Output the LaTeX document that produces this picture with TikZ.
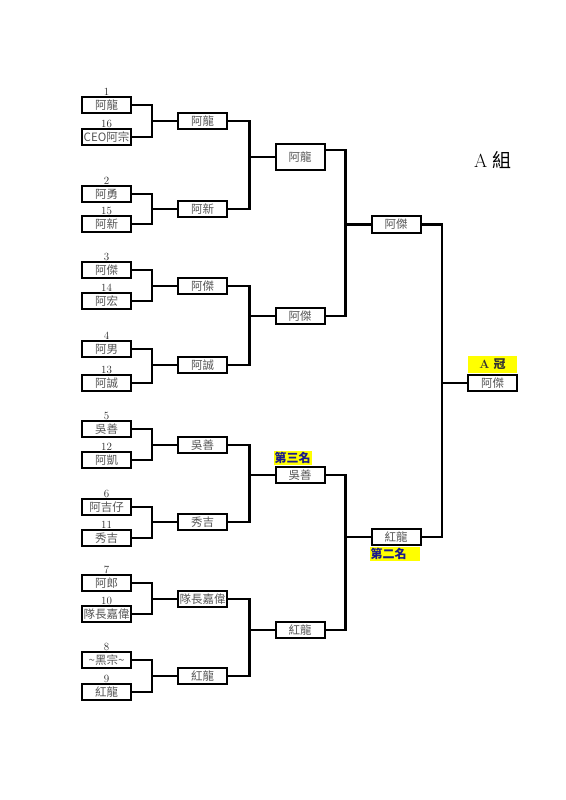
\documentclass[tikz,border=0pt]{standalone}
\usepackage{fontspec}
\newfontfamily\cjk{Noto Sans CJK TC}
\definecolor{namegray}{HTML}{555555}
\definecolor{rankblue}{HTML}{1A1A8C}
\definecolor{rankyellow}{HTML}{FFFF00}

\begin{document}
\begin{tikzpicture}[
  x=1pt, y=-1pt,
  entry/.style={draw=black, line width=2pt, minimum width=49pt, minimum height=16pt, inner sep=0pt, font=\cjk\fontsize{11.5}{12}\selectfont, text=namegray},
  seed/.style={font=\fontsize{11}{11}\selectfont, inner sep=0pt, text=black!85},
  rank/.style={fill=rankyellow, inner sep=1pt, text height=10pt, text depth=1.5pt, font=\cjk\bfseries\fontsize{12}{12}\selectfont, text=rankblue},
  link/.style={line width=2.8pt, line join=miter}
]
\useasboundingbox (0,0) rectangle (565,800);

% first round
\node[entry, label={[seed, name=n1]above:1}] (e1) at (106.5,105) {阿龍};
\node[entry, label={[seed, name=n16]above:16}] (e16) at (106.5,137) {CEO阿宗};
\node[entry, label={[seed, name=n2]above:2}] (e2) at (106.5,194) {阿勇};
\node[entry, label={[seed, name=n15]above:15}] (e15) at (106.5,224) {阿新};
\node[entry, label={[seed, name=n3]above:3}] (e3) at (106.5,270) {阿傑};
\node[entry, label={[seed, name=n14]above:14}] (e14) at (106.5,301) {阿宏};
\node[entry, label={[seed, name=n4]above:4}] (e4) at (106.5,349) {阿男};
\node[entry, label={[seed, name=n13]above:13}] (e13) at (106.5,383) {阿誠};
\node[entry, label={[seed, name=n5]above:5}] (e5) at (106.5,429) {吳善};
\node[entry, label={[seed, name=n12]above:12}] (e12) at (106.5,460) {阿凱};
\node[entry, label={[seed, name=n6]above:6}] (e6) at (106.5,507) {阿吉仔};
\node[entry, label={[seed, name=n11]above:11}] (e11) at (106.5,538) {秀吉};
\node[entry, label={[seed, name=n7]above:7}] (e7) at (106.5,583) {阿郎};
\node[entry, label={[seed, name=n10]above:10}] (e10) at (106.5,614) {隊長嘉偉};
\node[entry, label={[seed, name=n8]above:8}] (e8) at (106.5,660) {\textasciitilde 黑宗\textasciitilde};
\node[entry, label={[seed, name=n9]above:9}] (e9) at (106.5,692) {紅龍};

% second round
\node[entry] (r2a) at (202.5,121) {阿龍};
\node[entry] (r2b) at (202.5,209) {阿新};
\node[entry] (r2c) at (202.5,286) {阿傑};
\node[entry] (r2d) at (202.5,365) {阿誠};
\node[entry] (r2e) at (202.5,445) {吳善};
\node[entry] (r2f) at (202.5,522) {秀吉};
\node[entry] (r2g) at (202.5,599) {隊長嘉偉};
\node[entry] (r2h) at (202.5,676) {紅龍};

% semifinal, final, champion
\node[entry, minimum height=26pt] (q1) at (300,157) {阿龍};
\node[entry] (q2) at (300,316) {阿傑};
\node[entry] (q3) at (300,475) {吳善};
\node[entry] (q4) at (300,630) {紅龍};
\node[entry, minimum height=17pt] (f1) at (396,224.5) {阿傑};
\node[entry] (f2) at (396,537) {紅龍};
\node[entry] (champ) at (492.5,383) {阿傑};
\coordinate (q1out) at ([yshift=7pt]q1.east);

\foreach \a/\b/\w in {e1.east/e16.east/r2a, e2.east/e15.east/r2b, e3.east/e14.east/r2c, e4.east/e13.east/r2d,
                      e5.east/e12.east/r2e, e6.east/e11.east/r2f, e7.east/e10.east/r2g, e8.east/e9.east/r2h,
                      r2a.east/r2b.east/q1, r2c.east/r2d.east/q2, r2e.east/r2f.east/q3, r2g.east/r2h.east/q4,
                      q1out/q2.east/f1, q3.east/q4.east/f2, f1.east/f2.east/champ}
  \draw[link] (\w.west) -- ++(-25,0) coordinate (j) |- (\a) (j) |- (\b);

% places
\node[rank, anchor=south west] (third) at ([xshift=-1pt,yshift=1pt]q3.north west) {第三名};
\node[rank, anchor=north west, text width=48pt, align=left] (second) at ([xshift=-1pt,yshift=-1pt]f2.south west) {第二名};
\node[rank, anchor=south, text width=47pt, text height=12pt, text depth=3pt, align=center] (first) at ([yshift=1pt]champ.north) {\rmfamily\bfseries\color{black!80}A {\cjk\bfseries 冠}};

\node[font=\fontsize{19}{19}\selectfont] (title) at (493,160) {A {\cjk 組}};
\end{tikzpicture}
\end{document}
